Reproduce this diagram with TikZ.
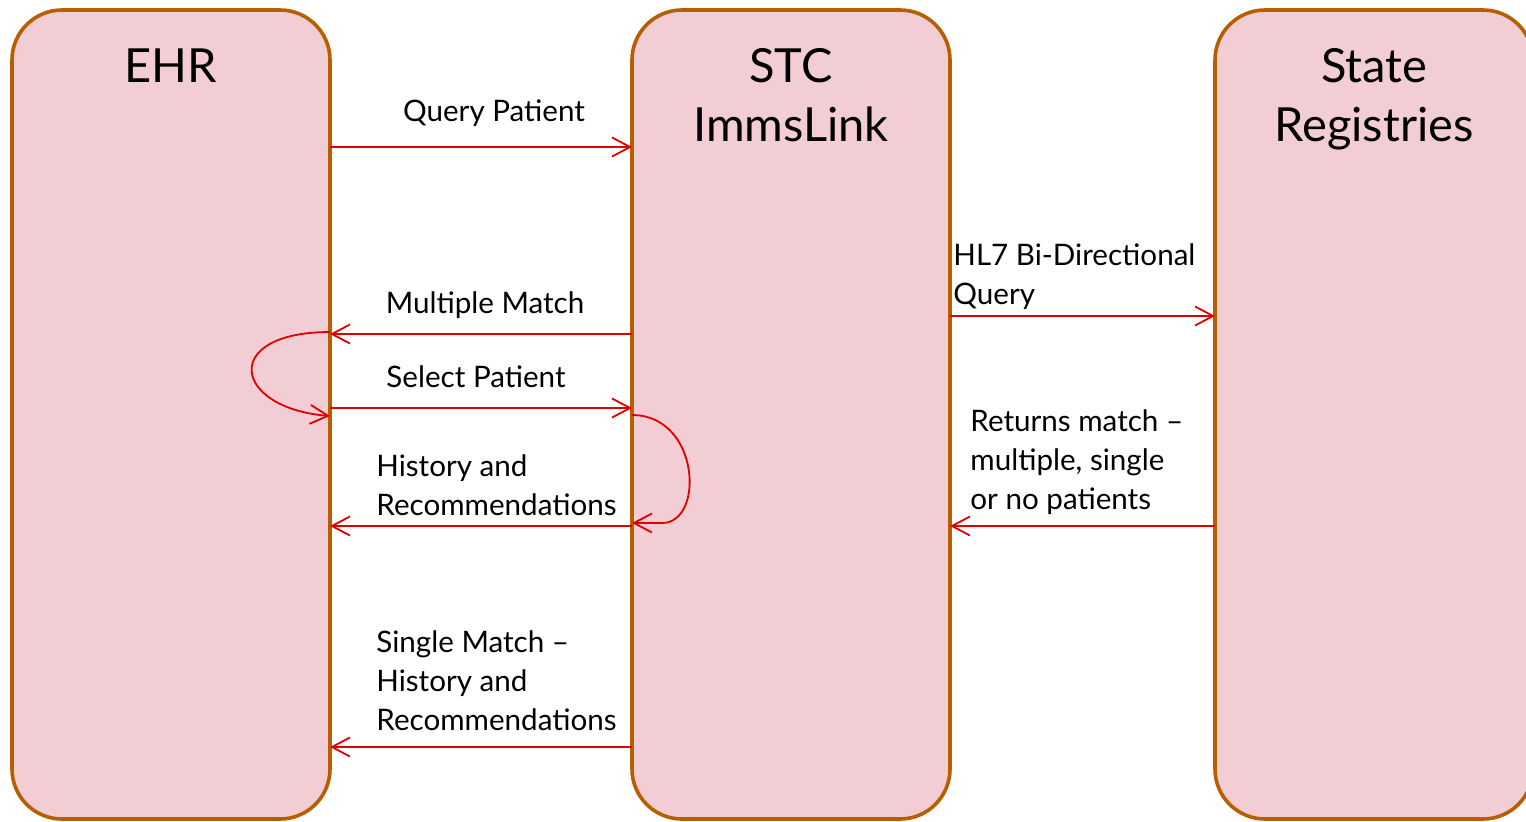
\documentclass[tikz,border=0pt]{standalone}
\usepackage{fontspec}
\setmainfont{Lato}
\usetikzlibrary{arrows.meta}
\definecolor{lanefill}{RGB}{242,205,211}
\definecolor{laneline}{RGB}{184,94,0}
\definecolor{msgred}{RGB}{224,0,0}

\begin{document}
\begin{tikzpicture}[x=0.5pt, y=-0.5pt,
  lane/.style={draw=laneline, fill=lanefill, line width=1.8pt, rounded corners=25pt,
    minimum width=159pt, minimum height=404.5pt, inner sep=0pt, outer sep=0pt},
  title/.style={font=\fontsize{23.5}{29.5}\selectfont, align=center, anchor=north, inner sep=0pt},
  msg/.style={draw=msgred, line width=0.9pt, -{Straight Barb[length=9pt,width=9.5pt]}},
  lbl/.style={font=\fontsize{14.8}{19.5}\selectfont, align=left, inner sep=0pt}]

\useasboundingbox (0,0) rectangle (1526,821);

% lanes
\node[lane] (ehr) at (171,414.5) {};
\node[lane] (stc) at (791,414.5) {};
\node[lane] (state) at (1374,414.5) {};

\node[title] (ehrT) at (ehr.north |- 0,48) {EHR};
\node[title] (stcT) at (stc.north |- 0,48) {STC\\ImmsLink};
\node[title] (stateT) at (state.north |- 0,48) {State\\Registries};

% messages
\foreach \y in {147, 408}
  \draw[msg] (ehr.east |- 0,\y) -- (stc.west |- 0,\y);
\foreach \y in {334, 526, 747}
  \draw[msg] (stc.west |- 0,\y) -- (ehr.east |- 0,\y);
\draw[msg] (stc.east |- 0,316) -- (state.west |- 0,316);
\draw[msg] (state.west |- 0,526) -- (stc.east |- 0,526);

% loops
\draw[msg] (ehr.east |- 0,332) .. controls (220,332) and (232,408) .. (ehr.east |- 0,416);
\draw[msg] (stc.west |- 0,415) .. controls (700,415) and (705,523) .. (662,523) -- (stc.west |- 0,523);

\node[lbl, anchor=base] (qp) at (494,121) {Query Patient};
\node[lbl, anchor=base] (mm) at (485,313) {Multiple Match};
\node[lbl, anchor=base] (sp) at (476,387) {Select Patient};
\node[lbl, anchor=north west] (hr) at (376,454) {History and\\Recommendations};
\node[lbl, anchor=north west] (sm) at (376,630) {Single Match --\\History and\\Recommendations};
\node[lbl, anchor=north west] (hl) at (953,243) {HL7 Bi-Directional\\Query};
\node[lbl, anchor=north west] (rm) at (970,409) {Returns match --\\multiple, single\\or no patients};

\end{tikzpicture}
\end{document}
